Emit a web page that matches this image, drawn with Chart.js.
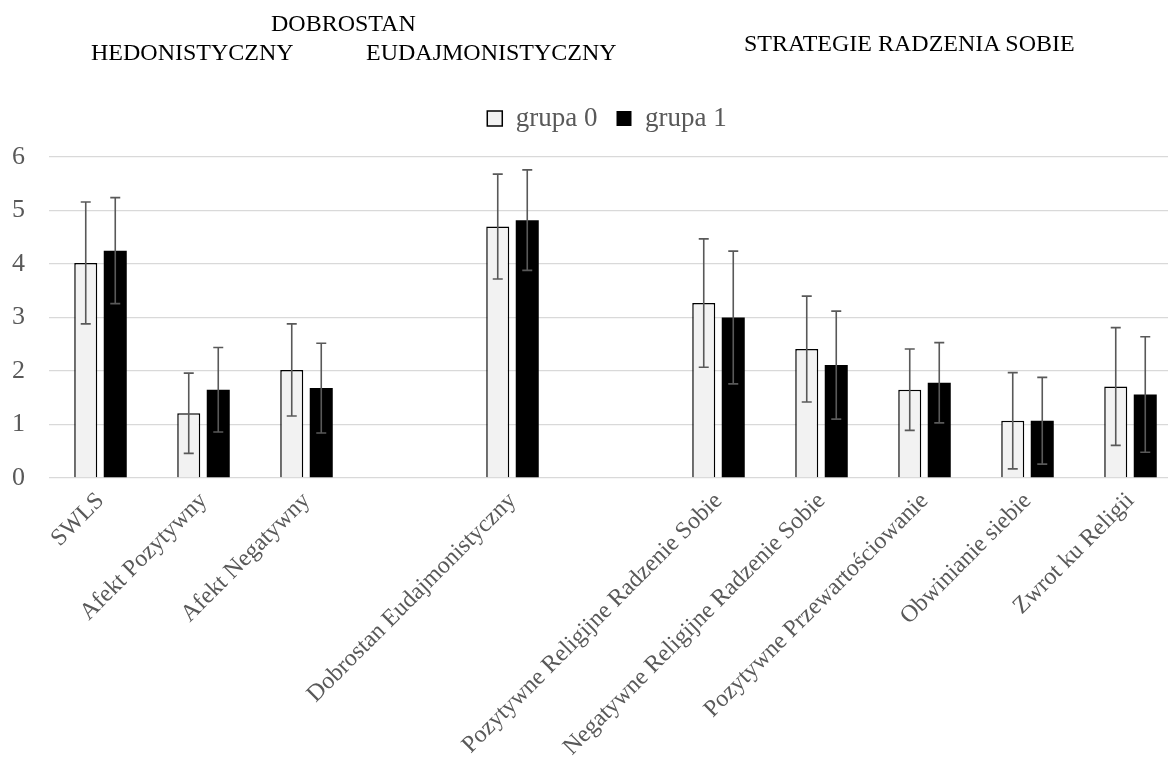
<!DOCTYPE html>
<html>
<head>
<meta charset="utf-8">
<script src="https://cdn.jsdelivr.net/npm/chart.js@4.4.1/dist/chart.umd.min.js"></script>
<style>
    html, body { margin: 0; padding: 0; background: #fff; overflow: hidden; }
    #wrap { position: relative; width: 1168px; height: 760px; overflow: hidden; }
    #chart { position: absolute; left: 0; top: 0; }
    .head {
        position: absolute;
        font-family: 'Liberation Serif', 'Times New Roman', serif;
        font-size: 24px;
        line-height: 24px;
        color: #000;
        white-space: nowrap;
    }
</style>
</head>
<body>
<div id="wrap">
    <canvas id="chart" width="1182" height="760"></canvas>
    <div class="head" style="left:271px; top:11px;">DOBROSTAN</div>
    <div class="head" style="left:91px; top:40px;">HEDONISTYCZNY</div>
    <div class="head" style="left:366px; top:40px;">EUDAJMONISTYCZNY</div>
    <div class="head" style="left:744px; top:31px;">STRATEGIE RADZENIA SOBIE</div>
</div>
<script>
// Categories (empty strings are the gaps between the groups)
const categories = [
    'SWLS', 'Afekt Pozytywny', 'Afekt Negatywny', '',
    'Dobrostan Eudajmonistyczny', '',
    'Pozytywne Religijne Radzenie Sobie', 'Negatywne Religijne Radzenie Sobie',
    'Pozytywne Przewartościowanie', 'Obwinianie siebie', 'Zwrot ku Religii'
];

// Means and error bar sizes
const grupa0 = [4.02, 1.21, 2.02, null, 4.70, null, 3.27, 2.41, 1.65, 1.07, 1.71];
const grupa0Err = [1.14, 0.75, 0.86, null, 0.98, null, 1.20, 0.99, 0.76, 0.90, 1.10];
const grupa1 = [4.25, 1.65, 1.68, null, 4.82, null, 3.00, 2.11, 1.78, 1.07, 1.56];
const grupa1Err = [0.99, 0.79, 0.84, null, 0.94, null, 1.24, 1.01, 0.75, 0.81, 1.08];

const yTicks = [0, 1, 2, 3, 4, 5, 6];

const FONT = "'Liberation Serif', 'Times New Roman', serif";
const errors = [grupa0Err, grupa1Err];

// Draws the error bars on top of each bar, using the y scale
const errorBars = {
    id: 'errorBars',
    afterDatasetsDraw(chart) {
        const ctx = chart.ctx;
        const y = chart.scales.y;
        ctx.save();
        ctx.strokeStyle = '#595959';
        ctx.lineWidth = 1.6;
        chart.data.datasets.forEach((ds, di) => {
            const meta = chart.getDatasetMeta(di);
            meta.data.forEach((bar, i) => {
                const v = ds.data[i];
                const e = errors[di][i];
                if (v == null || e == null) return;
                const top = y.getPixelForValue(v + e);
                const bot = y.getPixelForValue(v - e);
                const half = 5;
                ctx.beginPath();
                ctx.moveTo(bar.x, top); ctx.lineTo(bar.x, bot);
                ctx.moveTo(bar.x - half, top); ctx.lineTo(bar.x + half, top);
                ctx.moveTo(bar.x - half, bot); ctx.lineTo(bar.x + half, bot);
                ctx.stroke();
            });
        });
        ctx.restore();
    }
};

// Extra room between the legend and the plot area, and a small nudge to the right
const legendGap = {
    id: 'legendGap',
    beforeLayout(chart) {
        const lg = chart.legend;
        if (lg && !lg._gapPatched) {
            const fit = lg.fit;
            lg.fit = function () { fit.call(this); this.height += 15; };
            lg._gapPatched = true;
        }
    },
    afterLayout(chart) {
        const lg = chart.legend;
        if (lg) { lg.left += 10; lg.right += 10; }
    }
};

new Chart(document.getElementById('chart'), {
    type: 'bar',
    data: {
        labels: categories,
        datasets: [{
            label: 'grupa 0',
            data: grupa0,
            backgroundColor: '#f2f2f2',
            borderColor: '#000000',
            borderWidth: 1.5,
            categoryPercentage: 0.573,
            barPercentage: 0.78
        }, {
            label: 'grupa 1',
            data: grupa1,
            backgroundColor: '#000000',
            borderColor: '#000000',
            borderWidth: 0,
            categoryPercentage: 0.573,
            barPercentage: 0.78
        }]
    },
    options: {
        responsive: false,
        animation: false,
        layout: { padding: { left: 12, top: 86, right: 0, bottom: 0 } },
        plugins: {
            legend: {
                position: 'top',
                labels: {
                    boxWidth: 15,
                    boxHeight: 15,
                    padding: 19,
                    color: '#595959',
                    font: { family: FONT, size: 27 }
                }
            },
            tooltip: { enabled: false }
        },
        scales: {
            x: {
                grid: { display: false },
                border: { display: false },
                ticks: {
                    autoSkip: false,
                    minRotation: 45,
                    maxRotation: 45,
                    padding: 1,
                    color: '#595959',
                    font: { family: FONT, size: 24 }
                },
                afterFit(scale) {
                    scale.height = 282;
                    scale.paddingLeft = 0;
                    scale.paddingRight = 0;
                }
            },
            y: {
                min: 0,
                max: 6,
                afterBuildTicks(scale) { scale.ticks = yTicks.map(v => ({ value: v })); },
                afterFit(scale) { scale.width = 37; },
                grid: { color: '#d9d9d9', lineWidth: 1.3, drawTicks: false },
                border: { display: false },
                ticks: {
                    padding: 24,
                    color: '#595959',
                    font: { family: FONT, size: 26 }
                }
            }
        }
    },
    plugins: [errorBars, legendGap]
});
</script>
</body>
</html>
